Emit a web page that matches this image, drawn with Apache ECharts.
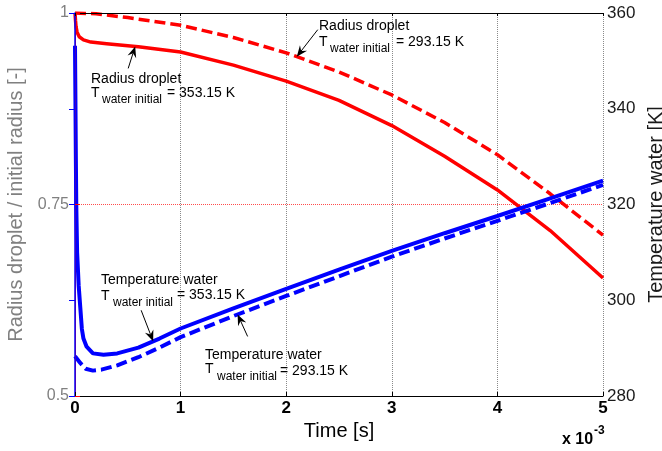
<!DOCTYPE html>
<html>
<head>
<meta charset="utf-8">
<script src="https://cdn.jsdelivr.net/npm/echarts@6/dist/echarts.min.js"></script>
<style>
  html, body { margin: 0; padding: 0; background: #ffffff; }
  #chart { width: 662px; height: 451px; }
</style>
</head>
<body>
<div id="chart"></div>
<script>
// Time axis in units of 1e-3 s
const xTicks = [0, 1, 2, 3, 4, 5];
const radiusTicks = [0.5, 0.75, 1];
const temperatureTicks = [280, 300, 320, 340, 360];

// Droplet radius / initial radius, water initially at 353.15 K
const timeRadius353 = [0, 0.005, 0.01, 0.02, 0.04, 0.08, 0.15, 0.3, 0.6, 1, 1.5, 2, 2.5, 3, 3.5, 4, 4.5, 5];
const radius353 = [1.0, 0.99, 0.982, 0.975, 0.969, 0.965, 0.962, 0.96, 0.956, 0.949, 0.932, 0.911, 0.886, 0.853, 0.813, 0.769, 0.716, 0.654];

// Droplet radius / initial radius, water initially at 293.15 K
const timeRadius293 = [0, 0.2, 0.5, 1, 1.5, 2, 2.5, 3, 3.5, 4, 4.5, 5];
const radius293 = [1.0, 0.999, 0.994, 0.984, 0.968, 0.948, 0.923, 0.893, 0.857, 0.815, 0.764, 0.71];

// Water temperature [K], initially 353.15 K
const timeTemp353 = [0, 0.004, 0.008, 0.012, 0.02, 0.035, 0.05, 0.065, 0.08, 0.11, 0.17, 0.27, 0.4, 0.6, 0.8, 1, 1.5, 2, 2.5, 3, 3.5, 4, 4.5, 5];
const temp353 = [353.15, 342, 330, 320, 310, 303, 298.5, 294, 292, 290.3, 288.9, 288.6, 288.9, 290.1, 292.0, 294.1, 298.3, 302.4, 306.4, 310.3, 314.0, 317.6, 321.3, 325.0];

// Water temperature [K], initially 293.15 K
const timeTemp293 = [0, 0.05, 0.1, 0.17, 0.25, 0.4, 0.6, 0.8, 1, 1.5, 2, 2.5, 3, 3.5, 4, 4.5, 5];
const temp293 = [288.3, 286.9, 285.7, 285.3, 285.5, 286.4, 288.1, 290.1, 292.3, 296.7, 300.9, 305.0, 309.1, 312.9, 316.6, 320.3, 324.1];

// Callouts: title, initial temperature text, curve pointed at, time of arrow tip
const calloutTitles = ['Radius droplet', 'Radius droplet', 'Temperature water', 'Temperature water'];
const calloutInitial = ['= 353.15 K', '= 293.15 K', '= 353.15 K', '= 293.15 K'];
const calloutSeries = [0, 1, 2, 3];
const calloutTipTime = [0.57, 2.1, 0.74, 1.54];

const FONT = '"Liberation Sans", Arial, Helvetica, sans-serif';

function zip(ts, vs) { return ts.map((t, i) => [t, vs[i]]); }
function valueAt(ts, vs, t) {
  for (let i = 1; i < ts.length; i++) {
    if (t <= ts[i]) {
      const f = (t - ts[i - 1]) / (ts[i] - ts[i - 1]);
      return vs[i - 1] + f * (vs[i] - vs[i - 1]);
    }
  }
  return vs[vs.length - 1];
}

const seriesDefs = [
  { t: timeRadius353, v: radius353, y: 0, color: '#ff0000', width: 3.5, dash: 'solid' },
  { t: timeRadius293, v: radius293, y: 0, color: '#ff0000', width: 3.5, dash: [11, 5] },
  { t: timeTemp353, v: temp353, y: 1, color: '#0000ff', width: 4, dash: 'solid' },
  { t: timeTemp293, v: temp293, y: 1, color: '#0000ff', width: 4, dash: [11, 5] }
];

const chart = echarts.init(document.getElementById('chart'), null, { renderer: 'canvas' });

const xRange = { type: 'value', min: xTicks[0], max: xTicks[xTicks.length - 1], interval: xTicks[1] - xTicks[0] };
const rRange = { type: 'value', min: radiusTicks[0], max: radiusTicks[radiusTicks.length - 1], interval: radiusTicks[1] - radiusTicks[0] };
const tRange = { type: 'value', min: temperatureTicks[0], max: temperatureTicks[temperatureTicks.length - 1], interval: temperatureTicks[1] - temperatureTicks[0] };

chart.setOption({
  animation: false,
  backgroundColor: '#ffffff',
  grid: { left: 75, right: 59, top: 13, bottom: 55, containLabel: false, outerBoundsMode: 'none' },
  textStyle: { fontFamily: FONT },
  xAxis: [
    Object.assign({}, xRange, {
      position: 'bottom', z: 5,
      name: 'Time [s]', nameLocation: 'middle', nameGap: 25,
      nameTextStyle: { fontSize: 20, color: '#000', fontFamily: FONT },
      axisLine: { show: true, lineStyle: { color: '#000', width: 1 } },
      axisTick: { show: true, inside: true, length: 4, lineStyle: { color: '#000' } },
      axisLabel: { color: '#000', fontWeight: 'bold', fontSize: 17, margin: 4, fontFamily: FONT },
      splitLine: { show: false }
    }),
    Object.assign({}, xRange, {
      position: 'top', z: 5,
      axisLine: { show: true, lineStyle: { color: '#000', width: 1 } },
      axisTick: { show: true, inside: true, length: 3, lineStyle: { color: '#000' } },
      axisLabel: { show: false },
      splitLine: { show: false }
    }),
    Object.assign({}, xRange, {
      position: 'bottom', z: 0,
      axisLine: { show: false }, axisTick: { show: false }, axisLabel: { show: false },
      splitLine: { show: true, lineStyle: { color: '#8a8a8a', width: 1, type: 'dotted' } }
    })
  ],
  yAxis: [
    Object.assign({}, rRange, {
      position: 'left', z: 5,
      name: 'Radius droplet / initial radius [-]', nameLocation: 'middle', nameGap: 46,
      nameTextStyle: { fontSize: 20, color: '#808080', fontFamily: FONT },
      axisLine: { show: true, lineStyle: { color: '#ff0000', width: 1 } },
      axisTick: { show: true, inside: true, length: 5, lineStyle: { color: '#ff0000' } },
      axisLabel: { color: '#808080', fontSize: 16, margin: 6, fontFamily: FONT },
      splitLine: { show: false }
    }),
    Object.assign({}, tRange, {
      position: 'right', z: 5,
      name: 'Temperature water [K]', nameLocation: 'middle', nameGap: 39, nameRotate: 90,
      nameTextStyle: { fontSize: 20, color: '#1a1a1a', fontFamily: FONT },
      axisLine: { show: true, lineStyle: { color: '#0000ff', width: 1.5 } },
      axisTick: { show: true, inside: true, length: 6, lineStyle: { color: '#0000ff' } },
      axisLabel: { color: '#1a1a1a', fontSize: 17, margin: 4, fontFamily: FONT },
      splitLine: { show: false }
    }),
    Object.assign({}, rRange, {
      position: 'left', z: 0,
      axisLine: { show: false }, axisTick: { show: false }, axisLabel: { show: false },
      splitLine: { show: true, lineStyle: { color: 'rgba(255,0,0,0.7)', width: 1, type: 'dotted' } }
    })
  ],
  series: seriesDefs.map(d => ({
    type: 'line',
    xAxisIndex: 0,
    yAxisIndex: d.y,
    data: zip(d.t, d.v),
    symbol: 'none',
    smooth: false,
    z: 3,
    lineStyle: { color: d.color, width: d.width, type: d.dash }
  }))
});

// Callout text blocks (pixel layout) and arrow tails relative to arrow tips
const calloutLayout = [
  { x: 91, titleY: 79, tY: 93, subX: 102, subY: 100, eqX: 167, eqY: 93, tail: [-7, 22] },
  { x: 319, titleY: 26, tY: 42, subX: 330, subY: 49, eqX: 396, eqY: 42, tail: [21, -27] },
  { x: 101, titleY: 280, tY: 296, subX: 113, subY: 303, eqX: 177, eqY: 295, tail: [-12, -31] },
  { x: 205, titleY: 355, tY: 369, subX: 217, subY: 377, eqX: 280, eqY: 371, tail: [10, 22] }
];

function txt(text, x, y, size, extra) {
  return {
    type: 'text', z: 20,
    style: Object.assign({
      text: text, x: x, y: y, fill: '#000',
      fontSize: size, fontFamily: FONT,
      align: 'left', verticalAlign: 'middle'
    }, extra || {})
  };
}

const graphics = [];
calloutLayout.forEach((L, i) => {
  const d = seriesDefs[calloutSeries[i]];
  const tt = calloutTipTime[i];
  const tip = chart.convertToPixel({ xAxisIndex: 0, yAxisIndex: d.y }, [tt, valueAt(d.t, d.v, tt)]);
  const tail = [tip[0] + L.tail[0], tip[1] + L.tail[1]];
  const dx = tip[0] - tail[0], dy = tip[1] - tail[1];
  const len = Math.sqrt(dx * dx + dy * dy);
  const ux = dx / len, uy = dy / len, nx = -uy, ny = ux;
  const HL = 11, HW = 4.5;
  const back = [tip[0] - ux * HL * 0.65, tip[1] - uy * HL * 0.65];
  graphics.push({
    type: 'line', z: 20,
    shape: { x1: tail[0], y1: tail[1], x2: back[0], y2: back[1] },
    style: { stroke: '#000', lineWidth: 1 }
  });
  graphics.push({
    type: 'polygon', z: 20,
    shape: { points: [
      tip,
      [tip[0] - ux * HL + nx * HW, tip[1] - uy * HL + ny * HW],
      back,
      [tip[0] - ux * HL - nx * HW, tip[1] - uy * HL - ny * HW]
    ] },
    style: { fill: '#000' }
  });
  graphics.push(txt(calloutTitles[i], L.x, L.titleY, 14));
  graphics.push(txt('T', L.x, L.tY, 14));
  graphics.push(txt('water initial', L.subX, L.subY, 12));
  graphics.push(txt(calloutInitial[i], L.eqX, L.eqY, 14));
});

// Axis exponent
graphics.push(txt('x 10', 562, 440, 16, { fontWeight: 'bold' }));
graphics.push(txt('-3', 594, 431, 12, { fontWeight: 'bold' }));

chart.setOption({ graphic: graphics });
</script>
</body>
</html>
